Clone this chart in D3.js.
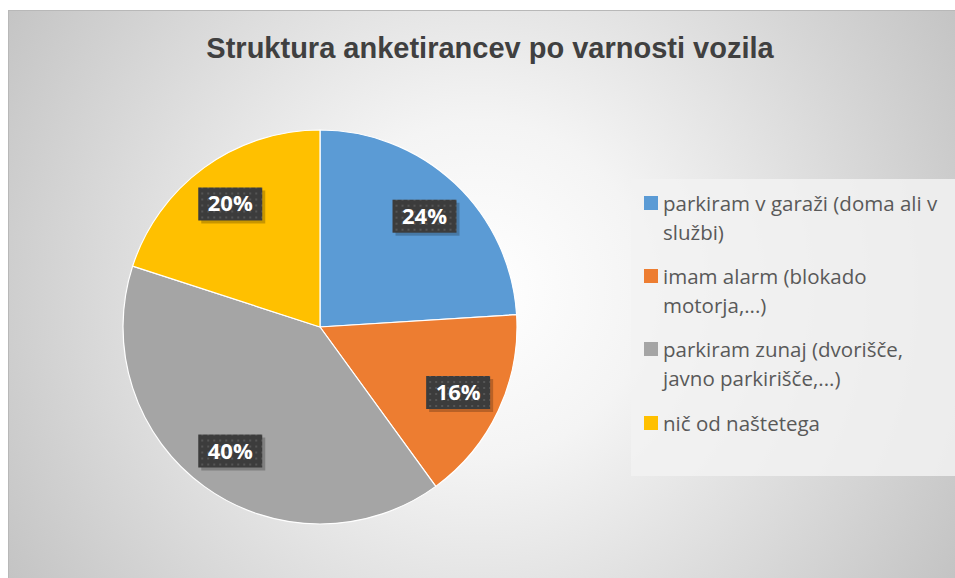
<!DOCTYPE html>
<html>
<head>
<meta charset="utf-8">
<script src="https://cdn.jsdelivr.net/npm/d3@7"></script>
<style>
  body { margin: 0; background: #fff; }
  svg { display: block; }
</style>
</head>
<body>
<div id="chart"></div>
<script>
const title = "Struktura anketirancev po varnosti vozila";
const categories = [
  ["parkiram v garaži (doma ali v", "službi)"],
  ["imam alarm (blokado", "motorja,...)"],
  ["parkiram zunaj (dvorišče,", "javno parkirišče,...)"],
  ["nič od naštetega"]
];
const values = [24, 16, 40, 20];
const colors = ["#5B9BD5", "#ED7D31", "#A5A5A5", "#FFC000"];

const width = 955, height = 578;
const svg = d3.select("#chart").append("svg")
    .attr("width", width)
    .attr("height", height);

let defs = svg.append("defs");
let grad = defs.append("radialGradient")
    .attr("id", "bg")
    .attr("gradientUnits", "userSpaceOnUse")
    .attr("cx", 480).attr("cy", 290).attr("r", 560);
grad.append("stop").attr("offset", "0%").attr("stop-color", "#ffffff");
grad.append("stop").attr("offset", "30%").attr("stop-color", "#f4f4f4");
grad.append("stop").attr("offset", "100%").attr("stop-color", "#c3c3c3");

// dotted texture for the label boxes
let pat = defs.append("pattern")
    .attr("id", "dots")
    .attr("width", 6).attr("height", 6)
    .attr("patternUnits", "userSpaceOnUse");
pat.append("rect").attr("width", 6).attr("height", 6).attr("fill", "#3c3c3c");
pat.append("rect").attr("x", 1).attr("y", 1).attr("width", 2).attr("height", 2).attr("fill", "#555");

svg.append("rect")
    .attr("x", 8.5).attr("y", 10.5)
    .attr("width", width).attr("height", height)
    .attr("fill", "url(#bg)")
    .attr("stroke", "#b8b8b8");

svg.append("text")
    .attr("x", 490).attr("y", 58)
    .attr("text-anchor", "middle")
    .attr("font-family", "Liberation Sans, Arial, sans-serif")
    .attr("font-weight", "bold")
    .attr("font-size", 29)
    .attr("fill", "#404040")
    .text(title);

// pie
const cx = 320, cy = 327, radius = 197;
const pie = d3.pie().sort(null).value(d => d);
const arcs = pie(values);
const arc = d3.arc().innerRadius(0).outerRadius(radius);
const labelArc = d3.arc().innerRadius(radius * 0.775).outerRadius(radius * 0.775);

let g = svg.append("g").attr("transform", "translate(" + cx + "," + cy + ")");

g.selectAll("path.slice")
    .data(arcs)
    .enter()
    .append("path")
        .attr("class", "slice")
        .attr("d", arc)
        .attr("fill", (d, i) => colors[i])
        .attr("stroke", "#ffffff")
        .attr("stroke-width", 1.2);

let labels = g.selectAll("g.lbl")
    .data(arcs)
    .enter()
    .append("g")
        .attr("class", "lbl")
        .attr("transform", d => "translate(" + labelArc.centroid(d) + ")");

labels.append("rect")
    .attr("x", -29).attr("y", -13)
    .attr("width", 64).attr("height", 33)
    .attr("fill", "#000").attr("opacity", 0.22);
labels.append("rect")
    .attr("x", -32).attr("y", -16)
    .attr("width", 64).attr("height", 33)
    .attr("fill", "url(#dots)");
labels.append("text")
    .attr("text-anchor", "middle")
    .attr("y", 8)
    .attr("font-family", "Open Sans, sans-serif")
    .attr("font-weight", "bold")
    .attr("font-size", 22)
    .attr("fill", "#ffffff")
    .text(d => d.data + "%");

// legend
svg.append("rect")
    .attr("x", 631).attr("y", 179)
    .attr("width", 324).attr("height", 297)
    .attr("fill", "#f2f2f2").attr("opacity", 0.85);

const itemY = [211, 284, 357, 431];
let legend = svg.selectAll("g.leg")
    .data(categories)
    .enter()
    .append("g")
        .attr("class", "leg")
        .attr("transform", (d, i) => "translate(644," + itemY[i] + ")");

legend.append("rect")
    .attr("x", 0).attr("y", -15)
    .attr("width", 14).attr("height", 14)
    .attr("fill", (d, i) => colors[i]);

legend.append("text")
    .attr("font-family", "Open Sans, sans-serif")
    .attr("font-size", 20.5)
    .attr("fill", "#595959")
    .selectAll("tspan")
    .data(d => d)
    .enter()
    .append("tspan")
        .attr("x", 19)
        .attr("y", (d, i) => i * 29)
        .text(d => d);
</script>
</body>
</html>
